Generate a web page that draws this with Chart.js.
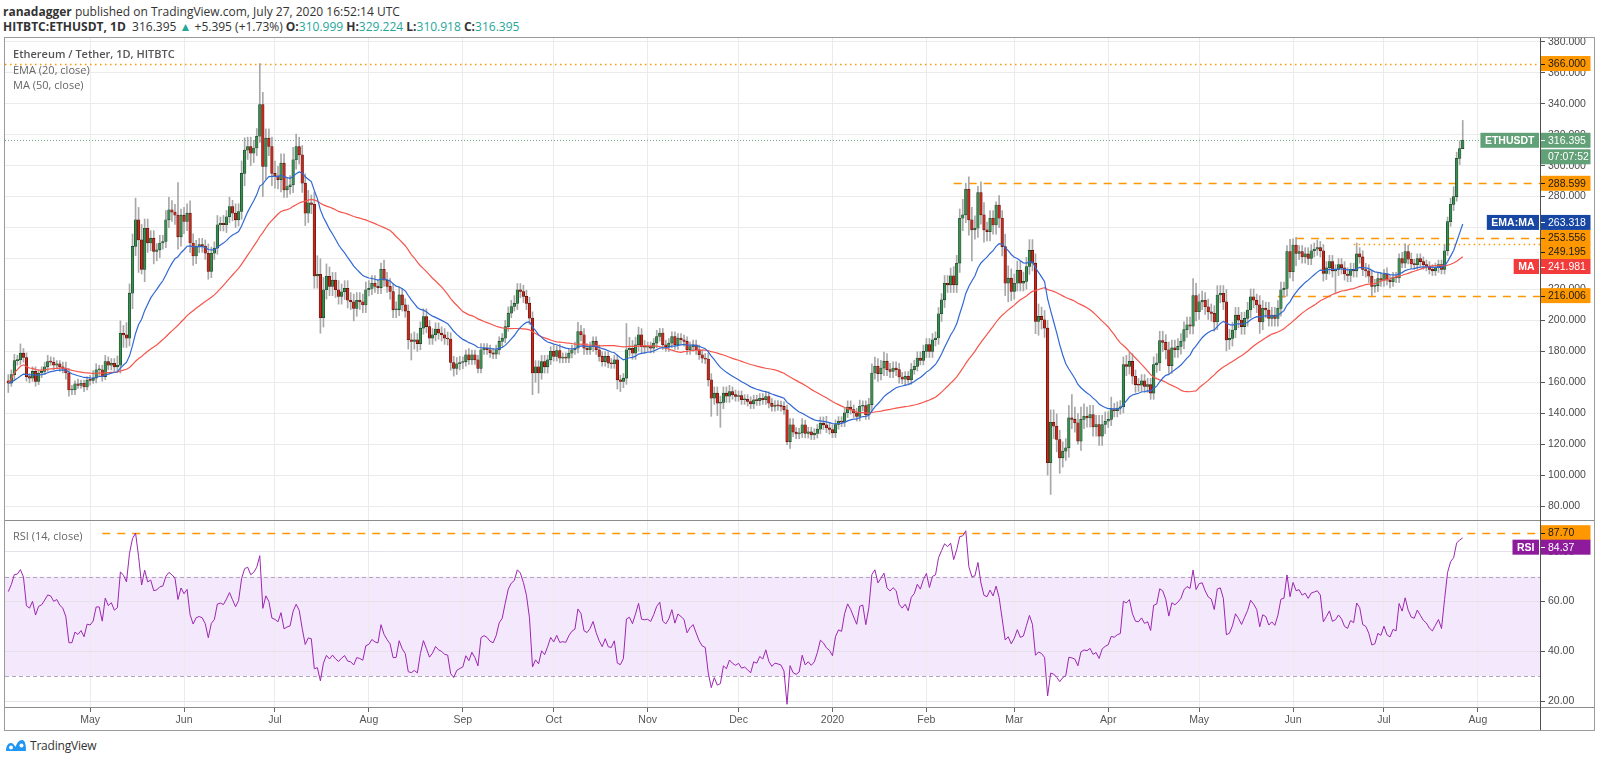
<!DOCTYPE html>
<html lang="en">
<head>
<meta charset="UTF-8">
<title>Ethereum / Tether, 1D, HITBTC</title>
<script src="https://cdn.jsdelivr.net/npm/chart.js"></script>
<style>
  body { margin: 0; width: 1600px; height: 763px; background: #fff; position: relative; overflow: hidden;
         font-family: "Open Sans", "Noto Sans", sans-serif; color: #333; }
  .txt { position: absolute; white-space: nowrap; line-height: 15px; }
  #line1 { left: 3px; top: 4px; font-size: 12px; }
  #line2 { left: 3px; top: 19px; font-size: 12px; }
  .teal { color: #26a69a; }
  .leg { position: absolute; left: 13px; white-space: nowrap; font-size: 11px; color: #666; line-height: 14px; }
  #frame { position: absolute; left: 4px; top: 37px; width: 1589px; height: 692px; border: 1px solid #9a9a9a; pointer-events: none; }
  .hl { position: absolute; left: 5px; width: 1589px; height: 1px; background: #8c8c8c; }
  #axisLine { position: absolute; left: 1540px; top: 38px; width: 1px; height: 692px; background: #4d4d4d; }
  canvas { position: absolute; left: 5px; }
  #priceCanvas { top: 30px; }
  #rsiCanvas { top: 521px; }
  #logo { position: absolute; left: 5px; top: 738px; }
  #logoText { position: absolute; left: 30px; top: 737px; font-size: 12px; color: #333; letter-spacing: -0.2px; }
</style>
</head>
<body>
  <div class="txt" id="line1"><b>ranadagger</b> published on TradingView.com, July 27, 2020 16:52:14 UTC</div>
  <div class="txt" id="line2"><b>HITBTC:ETHUSDT, 1D</b>&nbsp; 316.395 <span class="teal">▲</span> +5.395 (+1.73%) <b>O:</b><span class="teal">310.999</span> <b>H:</b><span class="teal">329.224</span> <b>L:</b><span class="teal">310.918</span> <b>C:</b><span class="teal">316.395</span></div>

  <canvas id="priceCanvas" width="1589" height="490"></canvas>
  <canvas id="rsiCanvas" width="1589" height="209"></canvas>

  <div id="frame"></div>
  <div class="hl" style="top:520px"></div>
  <div class="hl" style="top:707px"></div>
  <div id="axisLine"></div>

  <div class="leg" style="top:47px;font-weight:600;color:#555">Ethereum / Tether, 1D, HITBTC</div>
  <div class="leg" style="top:63px">EMA (20, close)</div>
  <div class="leg" style="top:78px">MA (50, close)</div>
  <div class="leg" style="top:529px">RSI (14, close)</div>

  <svg id="logo" width="22" height="15" viewBox="0 0 22 15">
    <path d="M1 13 C1 8 3 5 6 5 C8 5 9 7 10.5 9 C12 5 14 2 17 2 C20 2 21 6 21 13 Z" fill="#2196f3"/>
    <circle cx="6" cy="9.5" r="2" fill="#fff"/><circle cx="16.5" cy="7.5" r="2" fill="#fff"/>
  </svg>
  <div id="logoText">TradingView</div>

<script>
  // daily closes, HitBTC ETH/USDT, 2019-04-04 .. 2020-07-27
  const startDay = '2019-04-04';
  const firstOpen = 161;

  const cApr19 = [159.4, 165, 174, 174.5, 178.8, 176, 163.7, 162.6, 167, 160.5, 166, 167, 170, 173.4, 173, 171, 172, 170, 169, 166, 155, 155, 159, 158, 159.4, 157, 161.5];
  const cMay19 = [161.2, 162.6, 168, 168, 163.7, 173.4, 171, 172.3, 170, 171, 191.7, 190.6, 188.5, 217.6, 247.8, 265, 252, 233, 259.5, 250, 253, 244.5, 245.6, 250, 251, 265, 271.5, 270, 268, 254, 268];
  const cJun19 = [264, 269.3, 250, 241.6, 247.8, 249, 248, 243.4, 231.6, 243.4, 246.7, 261.8, 262.8, 261.8, 267, 273.6, 269.3, 265, 270.4, 295, 310, 312.4, 308, 311.4, 319, 339.4, 299.5, 317.8, 312.4, 295];
  const cJul19 = [293.5, 291, 301.6, 284.4, 286.5, 287.6, 303.8, 312.4, 307, 288.7, 269.3, 276, 275, 228.8, 229.8, 201.7, 219.8, 228.5, 222, 226, 219.8, 215.5, 218.5, 220.7, 213, 212, 207.7, 213, 212, 210, 219.8];
  const cAug19 = [220.7, 224, 222, 221.2, 233, 226, 222, 218.7, 206.8, 207, 216.5, 210, 206, 187.5, 186.4, 187.5, 185, 195, 202.5, 196, 188.5, 190.7, 194.4, 191.8, 190.7, 188.5, 188, 172.8, 169, 172, 172.8];
  const cSep19 = [173.4, 177.8, 174.5, 177.8, 174.5, 169, 181, 182, 181, 179, 178.2, 181, 186.4, 188.5, 196, 204.7, 209, 211, 219.8, 218.7, 215.5, 211, 201.5, 166, 170, 166, 173.4, 170, 174.5, 180];
  const cOct19 = [176.7, 180.5, 175.6, 176, 175.6, 178.8, 181, 182, 192.8, 190.7, 182, 181, 183, 186.4, 181, 176.7, 173.4, 176.7, 172.4, 172, 174.5, 161.6, 160.5, 162.7, 181, 182, 178.8, 184.2, 190.7, 183, 182.7];
  const cNov19 = [183, 182, 185.3, 189.6, 191.8, 184.2, 183, 185.3, 189.6, 184.2, 188.5, 187.5, 186.4, 181, 183, 184.2, 181, 177.8, 175.6, 175, 161.6, 149.7, 153, 146.5, 147, 153, 151, 154, 152, 150.8];
  const cDec19 = [151.4, 148.7, 149, 147.6, 146, 148.7, 148.1, 149.7, 148.7, 150.8, 146.5, 144.4, 145.1, 144.8, 144.4, 142.2, 121.7, 132.5, 127.8, 126.6, 127.3, 132.5, 127, 128, 126, 127, 129.7, 133.6, 132.5, 130.5, 129.5];
  const cJan20 = [127.3, 132.7, 134.8, 134.3, 140.2, 144, 142.4, 140.2, 138, 144.5, 145, 139, 145.6, 166, 170.3, 165.6, 169.2, 173.5, 168.2, 167, 169.2, 168.2, 163.4, 162, 163.9, 161.7, 168.2, 170.3, 175.7, 174.2, 180];
  const cFeb20 = [184.3, 180, 187.5, 188.6, 204.3, 213.3, 224, 223, 228.8, 223, 237, 266, 268.2, 284.7, 265, 258.5, 259.6, 282.6, 268.2, 258.5, 257.4, 266, 261.7, 274.6, 266, 247.7, 224, 227.3, 218.7];
  const cMar20 = [224, 232.3, 224, 225.2, 234.8, 245.2, 237, 199.4, 202.6, 200.4, 195, 108, 134.2, 131.6, 123, 111.2, 115.5, 117.6, 137, 136, 133.8, 122, 136, 138, 137, 139.1, 131.2, 132.7, 125.2, 132.7, 134.8];
  const cApr20 = [136, 142.4, 141.6, 143.4, 144.2, 171.4, 170.3, 173.5, 163.9, 158.5, 158.1, 161, 157.4, 158.5, 153, 171.4, 172.5, 187, 185.8, 181, 170.8, 182.2, 181, 183.2, 186.5, 194, 197.2, 196.3, 216, 205.6];
  const cMay20 = [212, 213, 208.8, 205.6, 204.5, 199, 216.4, 217.5, 212, 187.3, 188.4, 193.8, 203.4, 200.2, 196, 201.3, 206.7, 215.3, 213, 210, 199, 207.8, 206.7, 201.3, 203.4, 201.3, 207.8, 219.8, 220.7, 244.4, 231.5];
  const cJun20 = [248.7, 243.3, 244.4, 241, 243, 240, 245, 246, 247, 245, 230.4, 234, 238, 232, 233, 236, 234, 230, 229, 233, 232, 243, 241, 232.9, 232, 228.5, 222, 222.5, 227, 226];
  const cJul20 = [230, 226, 225, 228, 227.4, 240, 237, 244.5, 239.5, 236.5, 236, 240, 238, 236, 235, 233, 232, 234, 236, 233, 245, 263.8, 275, 280, 304.7, 310.999, 316.395];

  // upper shadows (above the body) and lower shadows (below the body)
  const hiApr19 = [4,3,4,3,6,3,3,2,3,3,2,3,3,4,3,3,2,2,3,4,3,3,2,3,2,2,2];
  const hiMay19 = [3,5,4,3,3,4,3,3,3,6,8,5,8,6,8,14,8,10,6,6,5,5,4,5,4,6,8,6,5,21,4];
  const hiJun19 = [5,6,8,6,4,4,4,4,6,4,4,6,4,5,4,6,4,6,5,8,8,6,6,5,5,26.6,8,6,6,6];
  const hiJul19 = [8,6,6,6,6,6,8,8,6,6,6,8,5,8,12,10,8,8,6,5,5,6,5,5,5,5,5,5,5,5,5];
  const hiAug19 = [5,5,5,4,4,6,5,5,5,5,5,4,4,4,4,5,4,4,5,5,4,4,4,4,4,4,4,4,4,4,4];
  const hiSep19 = [3,3,4,3,3,3,4,3,3,3,3,3,3,3,4,4,4,5,4,4,4,4,4,4,4,4,4,4,3,3];
  const hiOct19 = [4,3,4,3,3,3,3,4,6,4,4,3,3,3,3,3,3,3,3,3,3,3,3,3,17,7,5,5,5,4,4];
  const hiNov19 = [3,3,3,4,3,3,3,3,3,3,3,3,3,3,3,3,3,3,3,3,4,4,4,4,4,4,4,4,3,3];
  const hiDec19 = [3,3,3,3,3,3,3,3,3,3,3,3,3,3,3,3,3,4,4,3,3,4,3,3,3,3,3,4,4,5.5,3];
  const hiJan20 = [3,3,3,3,3,4,4,3,3,4,3,3,4,6,6,5,5,6,5,4,4,4,4,3,3,3,4,4,4,4,4];
  const hiFeb20 = [4,4,4,4,4,4,5,5,5,6,5,6,10,4,8,8,8,4,7,8,5,5,5,2,6,5,8,8,6];
  const hiMar20 = [6,6,6,6,6,7,7,6,8,6,6,5,8,8,8,6,6,6,8,15,8,6,8,8,6,6,6,6,6,6,6];
  const hiApr20 = [5,8,4,4,4,5,6,6,5,4,4,4,4,4,4,5,6,6,6,5,5,5,5,5,5,5,5,5,11,8];
  const hiMay20 = [5,6,5,5,5,5,6,5,5,8,6,5,5,5,5,4,5,5,5,4,6,5,4,5,5,5,5,5,4,4,8];
  const hiJun20 = [4,5,4,4,4,4,4,4,5,4,4,4,4,4,3,4,4,4,4,4,4,7,4,4,4,4,4,4,4,4];
  const hiJul20 = [3,4,3,3,3,3,4,5,4,4,3,3,3,3,3,3,3,3,3,3,4,3,4,6.4,4,5,12.829];

  const loApr19 = [6,2,4,3,3,3,3,3,2,3,2,3,2,3,2,3,2,3,3,4,4,3,3,2,2,3,2];
  const loMay19 = [3,2,3,4,3,2,3,3,3,3,5,8,6,5,10,6,21,3,8,6,5,8,6,5,4,4,5,6,6,8,6];
  const loJun19 = [8,6,6,6,5,4,4,4,5,4,4,4,4,4,5,4,5,5,4,5,8,6,8,6,5,4,19.5,8,6,8];
  const loJul19 = [8,6,8,5,5,5,5,6,6,6,8,6,6,8,8,10,6,6,6,6,5,5,5,5,5,5,8,5,5,5,5];
  const loAug19 = [4,4,4,4,4,4,4,5,5,5,4,4,4,6,12,5,5,4,4,4,4,4,4,4,4,4,4,5,5,4,4];
  const loSep19 = [4,3,3,3,3,3,3,3,3,3,3,3,3,3,3,3,3,3,4,4,4,4,4,14,6,13,4,4,4,3];
  const loOct19 = [3,3,3,3,3,3,3,3,3,4,4,3,3,3,3,3,3,3,3,3,3,6,6.5,4,4,4,4,4,4,4,4];
  const loNov19 = [3,3,3,3,3,3,3,3,3,3,3,3,3,3,3,3,3,3,3,3,4,11.7,4,8,15.6,4,4,4,3,3];
  const loDec19 = [3,3,3,3,3,3,3,3,3,3,3,3,3,3,3,3,2,4.5,3,3,3,3,3,3,3,3,3,3,3,3,3];
  const loJan20 = [3,3,3,3,3,3,3,3,3,3,3,3,3,4,4,5,4,5,4,4,4,4,4,3,4,3,3,3,3,3,3];
  const loFeb20 = [4,4,4,4,4,5,5,5,5,5,5,6,8,5,10,20,6,6,6,8,6,6,6,6,6,6,8,12,6];
  const loMar20 = [5,5,5,5,5,5,5,8,9,6,6,8,20.5,8,8,10,6,6,6,6,6,2,6,6,6,6,6,6,6,6,6];
  const loApr20 = [4,4,4,4,4,4,6,5,5,5,4,4,4,4,4,4,5,5,6,6,5,5,5,5,5,5,5,5,5,6];
  const loMay20 = [5,5,5,5,5,6,5,5,5,7,6,5,5,5,5,5,5,5,5,5,7.4,5,5,5,5,5,5,5,5,5,4];
  const loJun20 = [6,8,4,4,4,4,4,4,4,4,5,4,4,4,14,4,4,4,4,4,4,4,4,4,4,4,6,4,4,4];
  const loJul20 = [4,3,4,3,3,3,3,3,3,3,3,3,3,3,3,3,3,3,3,3,3,3,3,4,3,4,0.081];

  // x axis months
  const tickMonths = ['2019-05-01','2019-06-01','2019-07-01','2019-08-01','2019-09-01','2019-10-01','2019-11-01','2019-12-01',
                      '2020-01-01','2020-02-01','2020-03-01','2020-04-01','2020-05-01','2020-06-01','2020-07-01','2020-08-01'];
  const tickLabels = ['May','Jun','Jul','Aug','Sep','Oct','Nov','Dec','2020','Feb','Mar','Apr','May','Jun','Jul','Aug'];

  // horizontal levels drawn on the chart
  const levelValues = [366.000, 288.599, 253.556, 249.195, 216.006];
  const levelFrom = [null, '2020-02-10', '2020-06-02', '2020-06-21', '2020-05-27'];
  const rsiLevel = 87.70;
  const rsiLevelFrom = '2019-05-05';

  // right-axis readouts
  const lastClose = 316.395;
  const countdown = '07:07:52';
  const emaLast = 263.318;
  const maLast = 241.981;
  const rsiLast = 84.37;

  const dayOf = s => Math.round((Date.parse(s + 'T00:00:00Z') - Date.parse(startDay + 'T00:00:00Z')) / 864e5);

  const closes = [].concat(cApr19, cMay19, cJun19, cJul19, cAug19, cSep19, cOct19, cNov19, cDec19, cJan20, cFeb20, cMar20, cApr20, cMay20, cJun20, cJul20);
  const upWick = [].concat(hiApr19, hiMay19, hiJun19, hiJul19, hiAug19, hiSep19, hiOct19, hiNov19, hiDec19, hiJan20, hiFeb20, hiMar20, hiApr20, hiMay20, hiJun20, hiJul20);
  const downWick = [].concat(loApr19, loMay19, loJun19, loJul19, loAug19, loSep19, loOct19, loNov19, loDec19, loJan20, loFeb20, loMar20, loApr20, loMay20, loJun20, loJul20);

  const opens = closes.map((c, i) => i === 0 ? firstOpen : closes[i - 1]);
  const highs = closes.map((c, i) => Math.max(opens[i], c) + (upWick[i] ?? 0));
  const lows = closes.map((c, i) => Math.min(opens[i], c) - (downWick[i] ?? 0));

  // indicators
  function ema(vals, n) {
    const k = 2 / (n + 1);
    let e = vals[0];
    return vals.map(v => (e = v * k + e * (1 - k)));
  }
  function sma(vals, n) {
    return vals.map((v, i) => {
      const from = Math.max(0, i - n + 1);
      const part = vals.slice(from, i + 1);
      return part.reduce((a, b) => a + b, 0) / part.length;
    });
  }
  function rsi(vals, n) {
    let g = 3.2, l = 1.8;   // seed for the first bars
    return vals.map((v, i) => {
      if (i > 0) {
        const d = v - vals[i - 1];
        g = (g * (n - 1) + Math.max(d, 0)) / n;
        l = (l * (n - 1) + Math.max(-d, 0)) / n;
      }
      return 100 - 100 / (1 + g / l);
    });
  }
  const ema20 = ema(closes, 20);
  const ma50 = sma(closes, 50);
  const rsi14 = rsi(closes, 14);

  const monthDays = tickMonths.map(dayOf);
  const xMin = -1.09, xMax = 505.5;
  const axisFont = { family: 'Liberation Sans, Arial, sans-serif', size: 10.5 };
  const boxFont = '10.5px "Liberation Sans", Arial, sans-serif';

  function xScale(showLabels) {
    return {
      type: 'linear', min: xMin, max: xMax, offset: false,
      afterBuildTicks: s => { s.ticks = monthDays.map(v => ({ value: v })); },
      ticks: { display: showLabels, autoSkip: false, maxRotation: 0, color: '#555', font: axisFont, padding: 2,
               callback: (v, i) => tickLabels[i] },
      grid: { color: '#ebebeb', offset: false, drawTicks: showLabels, tickLength: 4, tickColor: '#666' },
      border: { display: false },
      afterFit: s => { s.height = showLabels ? 22 : 0; s.paddingLeft = 0; s.paddingRight = 0; }
    };
  }

  function valueBox(ctx, a, yc, bg, fg, text) {
    ctx.fillStyle = bg;
    ctx.fillRect(a.right + 0.5, yc - 7.5, 50, 15);
    ctx.strokeStyle = fg; ctx.lineWidth = 1; ctx.setLineDash([]);
    ctx.beginPath(); ctx.moveTo(a.right + 1, Math.round(yc) + 0.5); ctx.lineTo(a.right + 5, Math.round(yc) + 0.5); ctx.stroke();
    ctx.fillStyle = fg; ctx.font = boxFont; ctx.textAlign = 'left'; ctx.textBaseline = 'middle';
    ctx.fillText(text, a.right + 8, yc + 0.5);
  }
  function tagBox(ctx, a, yc, bg, text) {
    ctx.font = 'bold ' + boxFont;
    const w = ctx.measureText(text).width + 9;
    ctx.fillStyle = bg;
    ctx.fillRect(a.right - w - 1, yc - 7.5, w, 15);
    ctx.fillStyle = '#fff'; ctx.textAlign = 'center'; ctx.textBaseline = 'middle';
    ctx.fillText(text, a.right - 1 - w / 2, yc + 0.5);
  }
  function hLine(ctx, x0, x1, y, color, width, dash) {
    ctx.strokeStyle = color; ctx.lineWidth = width; ctx.setLineDash(dash);
    ctx.beginPath(); ctx.moveTo(x0, y); ctx.lineTo(x1, y); ctx.stroke();
  }

  const levelDash = [[1.5, 3.5], [8, 7], [8, 7], [1.5, 3.5], [8, 7]];

  const priceOverlay = {
    id: 'priceOverlay',
    beforeDatasetsDraw(chart) {
      const { ctx, chartArea: a, scales: { x, y } } = chart;
      ctx.save();
      ctx.beginPath(); ctx.rect(a.left, a.top, a.width, a.height); ctx.clip();
      hLine(ctx, a.left, a.right, Math.round(y.getPixelForValue(lastClose)) + 0.5, '#6aa883', 1, [1, 2]);
      levelValues.forEach((v, i) => {
        const x0 = levelFrom[i] === null ? a.left : x.getPixelForValue(dayOf(levelFrom[i]));
        hLine(ctx, x0, a.right, Math.round(y.getPixelForValue(v)) + 0.5, '#ff9800', 1.5, levelDash[i]);
      });
      ctx.restore();
    },
    afterDraw(chart) {
      const { ctx, chartArea: a, scales: { y } } = chart;
      ctx.save();
      const orange = '#ff9800';
      const items = levelValues.map(v => ({ v, bg: orange, fg: '#1a1a1a' }));
      items.push({ v: emaLast, bg: '#1847a3', fg: '#fff', tag: 'EMA:MA' });
      items.push({ v: maLast, bg: '#f23b3b', fg: '#fff', tag: 'MA' });
      items.forEach(it => { it.y = y.getPixelForValue(it.v); });
      items.sort((p, q) => p.y - q.y);
      for (let i = 1; i < items.length; i++) {
        if (items[i].y - items[i - 1].y < 14.5) items[i].y = items[i - 1].y + 14.5;
      }
      items.forEach(it => {
        if (it.tag) tagBox(ctx, a, it.y, it.bg, it.tag);
        valueBox(ctx, a, it.y, it.bg, it.fg, it.v.toFixed(3));
      });
      const yc = y.getPixelForValue(lastClose);
      tagBox(ctx, a, yc, '#62a077', 'ETHUSDT');
      valueBox(ctx, a, yc, '#62a077', '#fff', lastClose.toFixed(3));
      ctx.fillStyle = '#62a077';
      ctx.fillRect(a.right + 0.5, yc + 9, 50, 15);
      ctx.fillStyle = '#fff'; ctx.font = boxFont; ctx.textAlign = 'left'; ctx.textBaseline = 'middle';
      ctx.fillText(countdown, a.right + 8, yc + 17);
      ctx.restore();
    }
  };

  const rsiOverlay = {
    id: 'rsiOverlay',
    beforeDraw(chart) {
      const { ctx, chartArea: a, scales: { y } } = chart;
      const y70 = y.getPixelForValue(70), y30 = y.getPixelForValue(30);
      ctx.save();
      ctx.fillStyle = '#f4e8fd';
      ctx.fillRect(a.left, y70, a.width, y30 - y70);
      ctx.restore();
    },
    beforeDatasetsDraw(chart) {
      const { ctx, chartArea: a, scales: { x, y } } = chart;
      ctx.save();
      ctx.beginPath(); ctx.rect(a.left, a.top, a.width, a.height); ctx.clip();
      hLine(ctx, a.left, a.right, Math.round(y.getPixelForValue(70)) + 0.5, '#b3a6bb', 1, [4, 3]);
      hLine(ctx, a.left, a.right, Math.round(y.getPixelForValue(30)) + 0.5, '#b3a6bb', 1, [4, 3]);
      hLine(ctx, x.getPixelForValue(dayOf(rsiLevelFrom)), a.right, Math.round(y.getPixelForValue(rsiLevel)) + 0.5, '#ff9800', 1.5, [8, 7]);
      ctx.restore();
    },
    afterDraw(chart) {
      const { ctx, chartArea: a, scales: { y } } = chart;
      ctx.save();
      const yl = Math.max(y.getPixelForValue(rsiLevel), a.top + 7.5);
      valueBox(ctx, a, yl, '#ff9800', '#1a1a1a', rsiLevel.toFixed(2));
      const yr = Math.max(y.getPixelForValue(rsiLast), yl + 14.5);
      tagBox(ctx, a, yr, '#8e1b9c', 'RSI');
      valueBox(ctx, a, yr, '#8e1b9c', '#fff', rsiLast.toFixed(2));
      ctx.restore();
    }
  };

  const idx = closes.map((c, i) => i);
  const up = closes.map((c, i) => c >= opens[i]);

  new Chart(document.getElementById('priceCanvas'), {
    type: 'bar',
    data: {
      datasets: [
        { type: 'bar', label: 'wick', data: idx.map(i => ({ x: i, y: [lows[i], highs[i]] })),
          backgroundColor: '#a8a8a8', barThickness: 1, grouped: false, order: 4 },
        { type: 'bar', label: 'body', data: idx.map(i => ({ x: i, y: [opens[i], closes[i]] })),
          backgroundColor: up.map(u => u ? '#3b8c50' : '#c3291d'),
          borderColor: up.map(u => u ? '#173f22' : '#540c06'),
          borderWidth: 0.6, borderSkipped: false, barThickness: 2.6, minBarLength: 1, grouped: false, order: 3 },
        { type: 'line', label: 'MA 50', data: idx.map(i => ({ x: i, y: ma50[i] })),
          borderColor: '#f5554b', borderWidth: 1.2, pointRadius: 0, tension: 0, order: 2 },
        { type: 'line', label: 'EMA 20', data: idx.map(i => ({ x: i, y: ema20[i] })),
          borderColor: '#3168d4', borderWidth: 1.2, pointRadius: 0, tension: 0, order: 1 }
      ]
    },
    options: {
      responsive: false, animation: false,
      layout: { padding: { top: 8, left: 0, right: 0, bottom: 0 } },
      plugins: { legend: { display: false }, tooltip: { enabled: false } },
      scales: {
        x: xScale(false),
        y: {
          position: 'right', min: 71, max: 382.5,
          ticks: { stepSize: 20, includeBounds: false, color: '#4a4a4a', font: axisFont, padding: 3,
                   callback: v => Number(v).toFixed(3) },
          grid: { color: '#ebebeb', tickLength: 5, tickColor: '#555' },
          border: { display: false },
          afterFit: s => { s.width = 54; s.paddingTop = 0; s.paddingBottom = 0; }
        }
      }
    },
    plugins: [priceOverlay]
  });

  new Chart(document.getElementById('rsiCanvas'), {
    type: 'line',
    data: {
      datasets: [
        { label: 'RSI', data: idx.map(i => ({ x: i, y: rsi14[i] })),
          borderColor: '#9c27b0', borderWidth: 1, pointRadius: 0, tension: 0 }
      ]
    },
    options: {
      responsive: false, animation: false,
      layout: { padding: 0 },
      plugins: { legend: { display: false }, tooltip: { enabled: false } },
      scales: {
        x: xScale(true),
        y: {
          position: 'right', min: 17.2, max: 92.4,
          ticks: { stepSize: 20, includeBounds: false, color: '#4a4a4a', font: axisFont, padding: 3,
                   callback: v => Number(v).toFixed(2) },
          grid: { color: '#e6e0ea', tickLength: 5, tickColor: '#555' },
          border: { display: false },
          afterFit: s => { s.width = 54; s.paddingTop = 0; s.paddingBottom = 0; }
        }
      }
    },
    plugins: [rsiOverlay]
  });
</script>
</body>
</html>
